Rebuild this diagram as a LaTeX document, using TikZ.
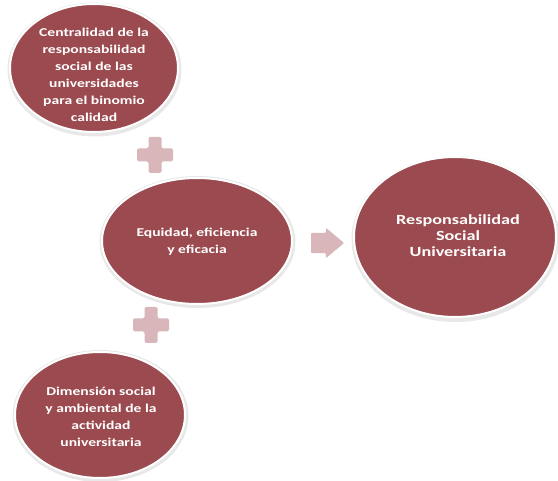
\documentclass[tikz,border=0pt]{standalone}
\usepackage{fontspec}
\setmainfont{Carlito}[FakeStretch=1.3]
\usetikzlibrary{shapes.geometric,shapes.arrows}
\definecolor{wine}{HTML}{9B4A4F}
\definecolor{rosa}{HTML}{D8B6BA}
\tikzset{
  bubble/.style={ellipse, fill=wine, draw=white, line width=2pt, inner sep=0pt},
  glow/.style={ellipse, fill=black!9, draw=none, inner sep=0pt},
  btext/.style={text=white, align=center, font=\bfseries\fontsize{12}{17}\selectfont},
  plusmark/.style={fill=rosa, rounded corners=1.5pt},
}
\newcommand{\plusat}[2]{%
  \fill[plusmark] (#1-6.5,#2-18) -- (#1+6.5,#2-18) -- (#1+6.5,#2-6.5) -- (#1+18,#2-6.5)
   -- (#1+18,#2+6.5) -- (#1+6.5,#2+6.5) -- (#1+6.5,#2+18) -- (#1-6.5,#2+18)
   -- (#1-6.5,#2+6.5) -- (#1-18,#2+6.5) -- (#1-18,#2-6.5) -- (#1-6.5,#2-6.5) -- cycle;}
\begin{document}
\begin{tikzpicture}[x=1pt,y=-1pt]
\useasboundingbox (0,0) rectangle (558,481);
% soft shadows
\node[glow, minimum width=174pt, minimum height=134pt] (g1) at (94.5,69.5) {};
\node[glow, minimum width=196pt, minimum height=132pt] (g2) at (197.5,242) {};
\node[glow, minimum width=208pt, minimum height=166pt] (g3) at (455.5,239) {};
\node[glow, minimum width=176pt, minimum height=132pt] (g4) at (100.5,416) {};
% ellipses
\node[bubble, minimum width=168pt, minimum height=128pt] (top) at (94,68) {};
\node[bubble, minimum width=190pt, minimum height=126pt] (mid) at (197,241) {};
\node[bubble, minimum width=202pt, minimum height=160pt] (rsu) at (455,237) {};
\node[bubble, minimum width=170pt, minimum height=126pt] (bot) at (100,415) {};
% texts
\node[btext] (ttop) at (94,75) {Centralidad de la\\responsabilidad\\social de las\\universidades\\para el binomio\\calidad};
\node[btext] (tmid) at (197,242) {Equidad, eficiencia\\y eficacia};
\node[btext, font=\bfseries\fontsize{14}{16}\selectfont] (trsu) at (458,236) {Responsabilidad\\Social\\Universitaria};
\node[btext] (tbot) at (101,417) {Dimensión social\\y ambiental de la\\actividad\\universitaria};
% plus signs
\plusat{155}{155}
\plusat{151}{325}
% arrow
\node[single arrow, fill=rosa, draw=none, minimum height=33pt, minimum width=30pt,
      single arrow head extend=5pt, single arrow tip angle=80, rounded corners=1pt,
      inner sep=10pt] (arr) at (321.5,243) {};
\end{tikzpicture}
\end{document}
